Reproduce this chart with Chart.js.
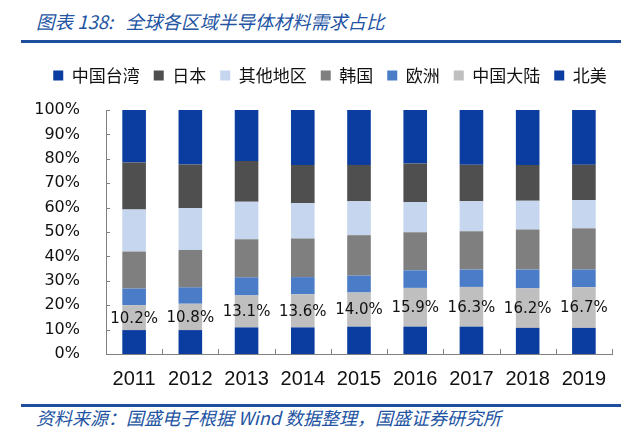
<!DOCTYPE html>
<html>
<head>
<meta charset="utf-8">
<script src="https://cdn.jsdelivr.net/npm/chart.js@4/dist/chart.umd.min.js"></script>
<style>
  body { margin: 0; background: #fff; width: 640px; height: 447px; position: relative; overflow: hidden; }
  .title { position: absolute; left: 36px; top: 12px; font: italic 18.5px/19px "Noto Sans CJK SC", sans-serif; color: #2354a3; white-space: nowrap; }
  .rule { position: absolute; left: 21px; width: 600px; height: 3px; background: #1d4f9e; }
  .source { position: absolute; left: 36px; top: 408px; font: italic 18px/18px "Noto Sans CJK SC", sans-serif; color: #2354a3; white-space: nowrap; }
  #wrap { position: absolute; left: 0; top: 50px; width: 640px; height: 346px; }
</style>
</head>
<body>
<div class="title">图表 138:&nbsp;&nbsp; 全球各区域半导体材料需求占比</div>
<div class="rule" style="top:40px"></div>
<div id="wrap"><canvas id="chart"></canvas></div>
<div class="rule" style="top:404px"></div>
<div class="source">资料来源：国盛电子根据 Wind 数据整理，国盛证券研究所</div>
<script>
var years = ['2011', '2012', '2013', '2014', '2015', '2016', '2017', '2018', '2019'];
var yTicks = [0, 10, 20, 30, 40, 50, 60, 70, 80, 90, 100];

// shares in %, bottom of the stack first
var northAmerica = [9.8, 9.8, 10.9, 10.9, 11.2, 11.2, 11.2, 10.7, 10.7];
var chinaMainland = [10.2, 10.8, 13.1, 13.6, 14.0, 15.9, 16.3, 16.2, 16.7];
var europe = [6.8, 6.7, 7.4, 7.0, 6.9, 7.2, 7.1, 7.7, 7.2];
var korea = [15.2, 15.3, 15.6, 15.8, 16.6, 15.6, 15.7, 16.4, 16.9];
var others = [17.2, 17.2, 15.4, 14.5, 13.9, 12.4, 12.3, 11.8, 11.6];
var japan = [19.3, 17.9, 16.7, 15.7, 14.9, 15.8, 15.0, 14.7, 14.5];
var taiwan = [21.5, 22.3, 20.9, 22.5, 22.5, 21.9, 22.4, 22.5, 22.4];

function ds(label, data, color) {
  return { label: label, data: data, backgroundColor: color, borderWidth: 0,
           barPercentage: 0.42, categoryPercentage: 1 };
}

var datasets = [
  ds('北美', northAmerica, '#0b3c9f'),
  ds('中国大陆', chinaMainland, '#bfbfbf'),
  ds('欧洲', europe, '#4a7cc8'),
  ds('韩国', korea, '#7f7f7f'),
  ds('其他地区', others, '#c6d6ee'),
  ds('日本', japan, '#4f4f4f'),
  ds('中国台湾', taiwan, '#0b3c9f')
];

// extra room under the legend, legend nudged right
var legendGap = {
  id: 'legendGap',
  beforeInit: function (chart) {
    var legend = chart.legend;
    var fit = legend.fit, draw = legend.draw;
    legend.fit = function () {
      fit.call(legend);
      legend.height += 16;
    };
    legend.draw = function () {
      chart.ctx.save();
      chart.ctx.translate(24, 0);
      draw.call(legend);
      chart.ctx.restore();
    };
  }
};

// value labels for 中国大陆 and inward axis ticks
var extras = {
  id: 'extras',
  afterDatasetsDraw: function (chart) {
    var ctx = chart.ctx;
    var meta = chart.getDatasetMeta(1);
    ctx.save();
    ctx.font = '15px "DejaVu Sans", sans-serif';
    ctx.fillStyle = '#111';
    ctx.textAlign = 'center';
    ctx.textBaseline = 'middle';
    meta.data.forEach(function (bar, i) {
      var c = bar.getCenterPoint();
      ctx.fillText(chinaMainland[i].toFixed(1) + '%', c.x, c.y + 1);
    });
    var x = chart.scales.x, y = chart.scales.y;
    ctx.strokeStyle = '#808080';
    ctx.lineWidth = 1;
    ctx.beginPath();
    yTicks.forEach(function (v) {
      var py = Math.round(y.getPixelForValue(v)) + 0.5;
      ctx.moveTo(x.left, py);
      ctx.lineTo(x.left + 4, py);
    });
    var step = (x.right - x.left) / years.length;
    for (var i = 1; i <= years.length; i++) {
      var px = Math.round(x.left + step * i) + 0.5;
      ctx.moveTo(px, y.bottom);
      ctx.lineTo(px, y.bottom - 5);
    }
    ctx.stroke();
    ctx.restore();
  }
};

new Chart(document.getElementById('chart'), {
  type: 'bar',
  data: { labels: years, datasets: datasets },
  plugins: [legendGap, extras],
  options: {
    responsive: true,
    maintainAspectRatio: false,
    animation: false,
    layout: { padding: { left: 0, right: 28, top: 3, bottom: 0 } },
    plugins: {
      legend: {
        reverse: true,
        labels: {
          boxWidth: 10,
          boxHeight: 10,
          padding: 14,
          color: '#111',
          font: { family: '"Noto Sans CJK SC", sans-serif', size: 17 }
        }
      },
      tooltip: { enabled: false }
    },
    scales: {
      x: {
        stacked: true,
        grid: { display: false },
        border: { display: true, color: '#808080' },
        ticks: {
          color: '#111',
          padding: 5,
          font: { family: '"Liberation Sans Narrow", "Liberation Sans", sans-serif', size: 20 }
        }
      },
      y: {
        stacked: true,
        min: 0,
        max: 100,
        afterFit: function (scale) { scale.width = 106; },
        grid: { display: false },
        border: { display: true, color: '#808080' },
        ticks: {
          stepSize: 10,
          autoSkip: false,
          padding: 18,
          color: '#111',
          font: { family: '"DejaVu Sans", sans-serif', size: 16 },
          callback: function (v) { return v + '%'; }
        }
      }
    }
  }
});
</script>
</body>
</html>
